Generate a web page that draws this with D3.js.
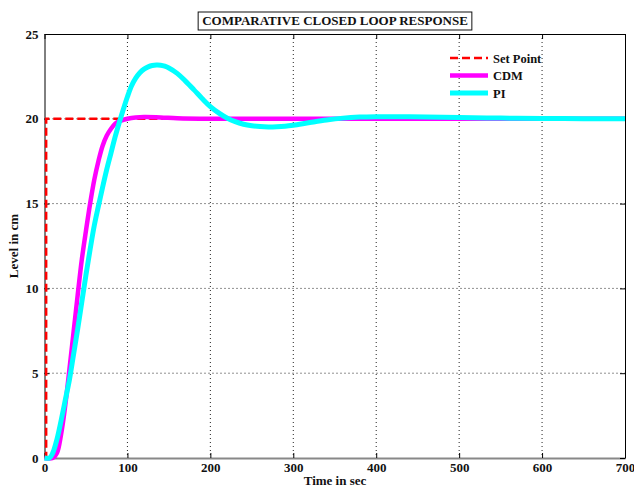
<!DOCTYPE html>
<html>
<head>
<meta charset="utf-8">
<script src="https://cdn.jsdelivr.net/npm/d3@7"></script>
<style>
  body { margin: 0; background: #fff; }
  text { font-family: "Liberation Serif", "Times New Roman", serif; font-weight: bold; fill: #111; }
</style>
</head>
<body>
<div id="visual"></div>
<script>
// closed loop response: set point, CDM and PI controllers

const xTicks = [0, 100, 200, 300, 400, 500, 600, 700];
const yTicks = [0, 5, 10, 15, 20, 25];

const setT = [0, 2, 2, 700];
const setV = [0, 0, 20, 20];

const cdmT = [0, 10, 15, 20, 25, 30, 35, 40, 45, 50, 55, 60, 65, 70, 75, 80, 85, 90, 100, 110, 120, 140, 160, 200, 300, 700];
const cdmV = [0, 0, 0.3, 1.4, 3.1, 5.2, 7.4, 9.6, 11.7, 13.4, 15.0, 16.4, 17.5, 18.4, 19.0, 19.4, 19.7, 19.85, 20.0, 20.08, 20.1, 20.08, 20.03, 20.0, 20.0, 20.0];

const piT = [0, 6, 10, 15, 20, 25, 30, 35, 40, 45, 50, 55, 60, 65, 70, 75, 80, 85, 90, 95, 100, 105, 110, 115, 120, 125, 130, 135, 140, 145, 150, 160, 170, 180, 190, 200, 210, 220, 230, 240, 250, 260, 270, 280, 290, 300, 320, 340, 360, 380, 400, 430, 460, 500, 550, 600, 650, 700];
const piV = [0, 0, 0.3, 1.1, 2.2, 3.4, 4.6, 6.1, 7.6, 9.2, 10.8, 12.3, 13.7, 14.85, 15.95, 17.0, 17.95, 18.9, 19.75, 20.55, 21.3, 21.95, 22.4, 22.72, 22.93, 23.06, 23.14, 23.17, 23.16, 23.1, 23.0, 22.68, 22.22, 21.72, 21.2, 20.72, 20.35, 20.05, 19.83, 19.68, 19.59, 19.54, 19.52, 19.53, 19.56, 19.62, 19.78, 19.93, 20.04, 20.1, 20.12, 20.12, 20.1, 20.07, 20.04, 20.02, 20.01, 20.0];

const w = 634, h = 488;
const m = { left: 44.5, right: 625, top: 34, bottom: 458 };

const svg = d3.select("#visual").append("svg")
  .attr("width", w)
  .attr("height", h);

const x = d3.scaleLinear().domain([0, 700]).range([m.left, m.right]);
const y = d3.scaleLinear().domain([0, 25]).range([m.bottom, m.top]);

// dotted grid
svg.append("g")
  .selectAll("line")
  .data(xTicks.slice(1, -1))
  .enter().append("line")
    .attr("x1", d => x(d)).attr("x2", d => x(d))
    .attr("y1", m.top).attr("y2", m.bottom)
    .attr("stroke", "#222").attr("stroke-width", 1)
    .attr("stroke-dasharray", "1,3");

svg.append("g")
  .selectAll("line")
  .data(yTicks.slice(1, -1))
  .enter().append("line")
    .attr("x1", m.left).attr("x2", m.right)
    .attr("y1", d => y(d)).attr("y2", d => y(d))
    .attr("stroke", "#222").attr("stroke-width", 1)
    .attr("stroke-dasharray", "1,3");

// axes, ticks inward
const axB = svg.append("g")
  .attr("transform", `translate(0,${m.bottom})`)
  .call(d3.axisBottom(x).tickValues(xTicks).tickSizeInner(-5).tickSizeOuter(0).tickPadding(5));
axB.select(".domain").attr("stroke", "#888").attr("stroke-width", 2);

svg.append("g")
  .attr("transform", `translate(${m.left},0)`)
  .call(d3.axisLeft(y).tickValues(yTicks).tickSizeInner(-5).tickSizeOuter(0).tickPadding(6));

svg.append("g")
  .attr("transform", `translate(0,${m.top})`)
  .call(d3.axisTop(x).tickValues(xTicks).tickSizeInner(-5).tickSizeOuter(0).tickFormat(""));

svg.append("g")
  .attr("transform", `translate(${m.right},0)`)
  .call(d3.axisRight(y).tickValues(yTicks).tickSizeInner(-5).tickSizeOuter(0).tickFormat(""));

svg.selectAll(".tick text")
  .attr("font-family", "Liberation Serif")
  .attr("font-weight", "bold")
  .attr("font-size", "13px")
  .attr("fill", "#1a1a2a");

// curves
const line = d3.line().x(d => x(d[0])).y(d => y(d[1]));
const smooth = d3.line().x(d => x(d[0])).y(d => y(d[1])).curve(d3.curveCatmullRom.alpha(0.5));

svg.append("path")
  .datum(d3.zip(setT, setV))
  .attr("d", line)
  .attr("fill", "none").attr("stroke", "#ff0000")
  .attr("stroke-width", 2.5).attr("stroke-dasharray", "8,4");

svg.append("path")
  .datum(d3.zip(cdmT, cdmV))
  .attr("d", smooth)
  .attr("fill", "none").attr("stroke", "#ff00ff")
  .attr("stroke-width", 4.5);

svg.append("path")
  .datum(d3.zip(piT, piV))
  .attr("d", smooth)
  .attr("fill", "none").attr("stroke", "#00ffff")
  .attr("stroke-width", 5);

// title box
const titleG = svg.append("g");
const titleBox = titleG.append("rect");
const title = titleG.append("text")
  .attr("x", 335).attr("y", 25)
  .attr("text-anchor", "middle")
  .attr("font-size", "13px")
  .text("COMPARATIVE CLOSED LOOP RESPONSE");
const tb = title.node().getBBox();
titleBox
  .attr("x", tb.x - 4).attr("y", 12)
  .attr("width", tb.width + 8).attr("height", 18)
  .attr("fill", "#fff").attr("stroke", "#111").attr("stroke-width", 1);

// axis labels
svg.append("text")
  .attr("x", 335).attr("y", 485)
  .attr("text-anchor", "middle")
  .attr("font-size", "13px")
  .text("Time in sec");

svg.append("text")
  .attr("transform", "translate(18,246) rotate(-90)")
  .attr("text-anchor", "middle")
  .attr("font-size", "13px")
  .text("Level in cm");

// legend
const legend = [
  { name: "Set Point", color: "#ff0000", width: 2.5, dash: "8,4" },
  { name: "CDM", color: "#ff00ff", width: 4.5, dash: null },
  { name: "PI", color: "#00ffff", width: 5, dash: null }
];
const lg = svg.append("g").selectAll("g")
  .data(legend)
  .enter().append("g")
    .attr("transform", (d, i) => `translate(450,${58 + i * 17.5})`);
lg.append("line")
  .attr("x1", 0).attr("x2", 38)
  .attr("stroke", d => d.color)
  .attr("stroke-width", d => d.width)
  .attr("stroke-dasharray", d => d.dash);
lg.append("text")
  .attr("x", 43).attr("y", 4.5)
  .attr("font-size", "12.5px")
  .text(d => d.name);
</script>
</body>
</html>
